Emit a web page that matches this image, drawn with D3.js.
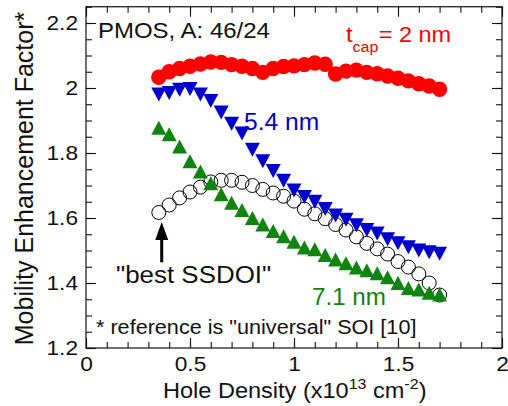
<!DOCTYPE html>
<html><head><meta charset="utf-8">
<script src="https://cdn.jsdelivr.net/npm/d3@7"></script>
<style>
html,body{margin:0;padding:0;background:#fff;}
svg{display:block;font-family:"Liberation Sans",Arial,Helvetica,sans-serif;}
</style></head>
<body><svg id="c" width="508" height="406"></svg>
<script>
// Hole density (x10^13 cm^-2)
const holeDensity = [0.35,0.40,0.45,0.50,0.55,0.60,0.65,0.70,0.75,0.80,0.85,0.90,0.95,1.00,
  1.05,1.10,1.15,1.20,1.25,1.30,1.35,1.40,1.45,1.50,1.55,1.60,1.65,1.70];
// t_cap = 2 nm (red filled circles)
const cap2nm = [2.033,2.050,2.060,2.067,2.074,2.080,2.079,2.072,2.067,2.060,2.048,2.060,2.066,2.068,
  2.072,2.077,2.073,2.043,2.052,2.055,2.048,2.044,2.037,2.030,2.022,2.013,2.006,1.996];
// 5.4 nm (blue down triangles)
const cap54nm = [1.980,1.985,1.995,1.997,1.980,1.960,1.925,1.890,1.860,1.810,1.775,1.745,1.715,1.685,
  1.665,1.650,1.628,1.608,1.595,1.578,1.563,1.552,1.535,1.522,1.510,1.500,1.495,1.490];
// 7.1 nm (green up triangles)
const cap71nm = [1.878,1.858,1.820,1.775,1.743,1.707,1.673,1.647,1.625,1.600,1.580,1.560,1.544,1.527,
  1.509,1.504,1.486,1.472,1.461,1.448,1.439,1.430,1.418,1.400,1.385,1.380,1.370,1.365];
// "best SSDOI" (open circles)
const bestSSDOI = [1.617,1.640,1.662,1.680,1.695,1.711,1.716,1.716,1.710,1.700,1.688,1.677,1.667,1.652,
  1.627,1.613,1.598,1.580,1.563,1.542,1.522,1.505,1.489,1.466,1.449,1.428,1.400,1.363];

const xMajorTicks = [0,0.5,1,1.5,2];
const xTickLabels = ["0","0.5","1","1.5","2"];
const yMajorTicks = [1.2,1.4,1.6,1.8,2.0,2.2];
const yTickLabels = ["1.2","1.4","1.6","1.8","2","2.2"];
const xMinorTicks = d3.range(0,21).map(i=>i/10);
const yMinorTicks = d3.range(0,22).map(i=>1.2+i*0.05);

const RED="#ff0000", BLUE="#0000cc", GREEN="#108410", INK="#111";
const SX = 1.08; // horizontal glyph stretch of the original typeface

const svg = d3.select("#c");
const L=86,R=502,T=6.75,B=348;
const x = d3.scaleLinear().domain([0,2]).range([L,R]);
const y = d3.scaleLinear().domain([1.2,2.25]).range([B,T]);

// frame
svg.append("rect").attr("x",L).attr("y",T).attr("width",R-L).attr("height",B-T)
  .attr("fill","none").attr("stroke",INK).attr("stroke-width",1.2);

function styleAxis(g){ g.select(".domain").remove(); g.selectAll(".tick line").attr("stroke",INK).attr("stroke-width",1.1); }

// bottom
svg.append("g").attr("transform",`translate(0,${B})`)
  .call(d3.axisBottom(x).tickValues(xMinorTicks).tickSize(-6).tickFormat(""))
  .call(styleAxis);
const gxb = svg.append("g").attr("transform",`translate(0,${B})`)
  .call(d3.axisBottom(x).tickValues(xMajorTicks).tickSize(-10).tickPadding(8.5)
    .tickFormat((d,i)=>xTickLabels[i]))
  .call(styleAxis);
gxb.selectAll("text").attr("font-size",21).attr("fill",INK).attr("font-family",null)
  .attr("transform",`scale(${SX},1)`).attr("x",0);
// top
svg.append("g").attr("transform",`translate(0,${T})`)
  .call(d3.axisTop(x).tickValues(xMinorTicks).tickSize(-6).tickFormat("")).call(styleAxis);
svg.append("g").attr("transform",`translate(0,${T})`)
  .call(d3.axisTop(x).tickValues(xMajorTicks).tickSize(-10).tickFormat("")).call(styleAxis);
// left
svg.append("g").attr("transform",`translate(${L},0)`)
  .call(d3.axisLeft(y).tickValues(yMinorTicks).tickSize(-6).tickFormat("")).call(styleAxis);
const gyl = svg.append("g").attr("transform",`translate(${L},0)`)
  .call(d3.axisLeft(y).tickValues(yMajorTicks).tickSize(-10).tickPadding(8)
    .tickFormat((d,i)=>yTickLabels[i]))
  .call(styleAxis);
gyl.selectAll("text").attr("font-size",21).attr("fill",INK).attr("font-family",null)
  .attr("x",-8/SX).attr("transform",`scale(${SX},1)`);
// right
svg.append("g").attr("transform",`translate(${R},0)`)
  .call(d3.axisRight(y).tickValues(yMinorTicks).tickSize(-6).tickFormat("")).call(styleAxis);
svg.append("g").attr("transform",`translate(${R},0)`)
  .call(d3.axisRight(y).tickValues(yMajorTicks).tickSize(-10).tickFormat("")).call(styleAxis);

// text helper: anchored at (px,py), stretched horizontally by sx
function label(px,py,size,sx,color){
  return svg.append("text").attr("transform",`translate(${px},${py}) scale(${sx},1)`)
    .attr("font-size",size).attr("fill",color);
}

// axis titles
const xt = label(163,398,22,1.07,INK);
xt.append("tspan").text("Hole Density (x10");
xt.append("tspan").attr("font-size",15).attr("dy",-9).text("13");
xt.append("tspan").attr("dy",9).text(" cm");
xt.append("tspan").attr("font-size",15).attr("dy",-9).text("-2");
xt.append("tspan").attr("dy",9).text(")");

svg.append("text").attr("transform","translate(32.5,178.5) rotate(-90)")
  .attr("text-anchor","middle").attr("font-size",25).attr("fill",INK)
  .text("Mobility Enhancement Factor*");

// data marks
const pts = arr => holeDensity.map((h,i)=>({h, v:arr[i]}));
const tri = (w,h,up) => up ? `M${-w/2},${h/2}L${w/2},${h/2}L0,${-h/2}Z` : `M${-w/2},${-h/2}L${w/2},${-h/2}L0,${h/2}Z`;

svg.append("g").selectAll("circle").data(pts(bestSSDOI)).join("circle")
  .attr("cx",d=>x(d.h)).attr("cy",d=>y(d.v)).attr("r",7)
  .attr("fill","none").attr("stroke","#000").attr("stroke-width",1);

svg.append("g").selectAll("path").data(pts(cap71nm)).join("path")
  .attr("transform",d=>`translate(${x(d.h)},${y(d.v)})`).attr("d",tri(15,14,true))
  .attr("fill",GREEN);

svg.append("g").selectAll("path").data(pts(cap54nm)).join("path")
  .attr("transform",d=>`translate(${x(d.h)},${y(d.v)})`).attr("d",tri(15,14,false))
  .attr("fill",BLUE);

svg.append("g").selectAll("circle").data(pts(cap2nm)).join("circle")
  .attr("cx",d=>x(d.h)).attr("cy",d=>y(d.v)).attr("r",7.7).attr("fill",RED);

// annotations
label(98,38.3,22,1.09,INK).text("PMOS, A: 46/24");
const tc = label(346,41.7,22,1.07,RED);
tc.append("tspan").text("t");
tc.append("tspan").attr("font-size",15).attr("dy",10).text("cap");
tc.append("tspan").attr("x",30.5).attr("dy",-10).text("= 2 nm");

label(244,130,23,1.07,BLUE).text("5.4 nm");
label(312,305,23,1.05,GREEN).text("7.1 nm");
label(116,283,24,1.08,INK).text("\"best SSDOI\"");
label(96,333.5,21,1.03,INK).text("* reference is \"universal\" SOI [10]");

// arrow
const ax = x(0.364);
svg.append("line").attr("x1",ax).attr("x2",ax).attr("y1",y(1.4637)).attr("y2",y(1.535))
  .attr("stroke","#000").attr("stroke-width",3);
svg.append("path").attr("d",`M${ax},${y(1.588)}L${ax-6.5},${y(1.532)}L${ax+6.5},${y(1.532)}Z`).attr("fill","#000");
</script></body></html>
